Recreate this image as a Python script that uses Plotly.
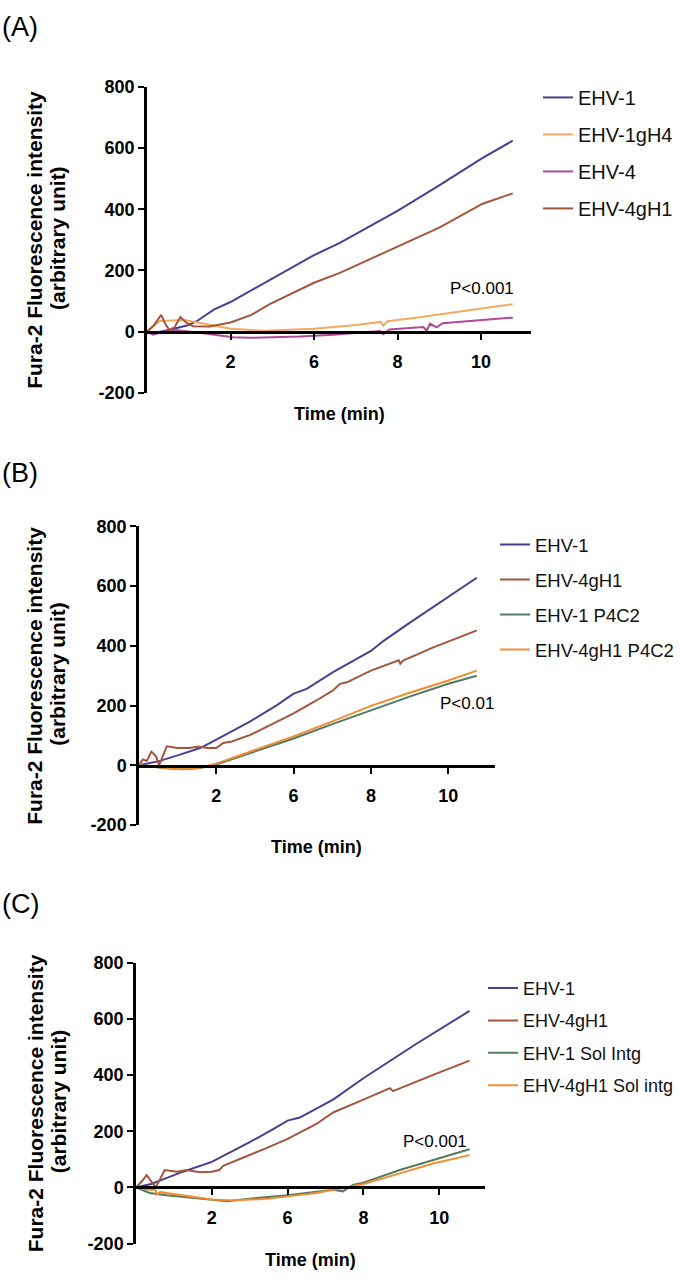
import plotly.graph_objects as go

W, H = 680, 1286
FONT = "Liberation Sans, Arial, sans-serif"

# ---------------- data ----------------
# x values are positions on the axis; ticks sit at 1..4 and are labelled 2, 6, 8, 10
x_tick_pos = [1, 2, 3, 4]
x_tick_text = ["2", "6", "8", "10"]
y_tick_vals = [-200, 0, 200, 400, 600, 800]
y_tick_text = ["-200", "0", "200", "400", "600", "800"]

# Panel A
a_ehv1_x = [0, 0.1, 0.3, 0.5, 0.6, 0.8, 1.0, 1.25, 1.5, 2.0, 2.31, 2.79, 3.0, 3.5, 4.02, 4.38]
a_ehv1_y = [0, -3, 8, 22, 35, 72, 97, 135, 172, 250, 290, 362, 395, 478, 568, 624]
a_1gh4_x = [0, 0.15, 0.45, 0.63, 1.0, 1.4, 2.0, 2.5, 2.8, 2.83, 2.88, 3.2, 4.0, 4.38]
a_1gh4_y = [0, 35, 38, 29, 10, 3, 10, 22, 32, 20, 34, 45, 74, 90]
a_ehv4_x = [0, 0.07, 0.2, 0.36, 0.63, 1.03, 1.23, 1.83, 2.23, 2.63, 2.79, 2.83, 2.9,
            3.31, 3.35, 3.39, 3.47, 3.54, 4.23, 4.38]
a_ehv4_y = [0, -10, 0, 5, -3, -18, -20, -16, -10, 0, 2, -8, 7, 15, 3, 26, 14, 28, 44, 46]
a_4gh1_x = [0, 0.08, 0.17, 0.22, 0.27, 0.33, 0.4, 0.47, 0.55, 0.75, 1.0, 1.25, 1.47,
            2.0, 2.31, 2.75, 3.0, 3.5, 4.02, 4.38]
a_4gh1_y = [0, 20, 55, 25, 5, 15, 48, 30, 18, 17, 30, 55, 90, 160, 192, 248, 278, 340, 418, 452]

# Panel B
b_ehv1_x = [0, 0.27, 0.53, 0.79, 1.0, 1.44, 1.78, 2.0, 2.17, 2.51, 3.0, 3.16, 3.5, 4.0, 4.37]
b_ehv1_y = [0, 15, 36, 58, 86, 147, 201, 240, 256, 312, 383, 416, 477, 563, 628]
b_4gh1_x = [0, 0.05, 0.1, 0.16, 0.22, 0.26, 0.36, 0.5, 0.65, 0.77, 0.88, 1.0, 1.09, 1.2,
            1.44, 1.65, 2.0, 2.3, 2.51, 2.6, 2.69, 3.0, 3.36, 3.38, 3.41, 3.8, 4.37]
b_4gh1_y = [0, 20, 15, 46, 30, 0, 64, 58, 58, 63, 58, 58, 75, 80, 102, 130, 174, 218,
            251, 273, 278, 317, 352, 340, 350, 394, 452]
b_p4c2_x = [0, 0.2, 0.36, 0.57, 0.79, 1.0, 1.44, 2.0, 2.51, 3.0, 3.5, 4.0, 4.37]
b_1p4c2_y = [0, -6, -10, -13, -9, 3, 42, 90, 139, 185, 230, 273, 300]
b_4p4c2_y = [0, -6, -10, -13, -8, 6, 47, 97, 148, 199, 243, 284, 317]

# Panel C
c_ehv1_x = [0, 0.2, 0.4, 0.62, 1.0, 1.5, 1.81, 2.0, 2.16, 2.6, 3.0, 3.17, 3.48, 3.7, 4.4]
c_ehv1_y = [0, 12, 33, 56, 91, 161, 208, 238, 249, 313, 389, 419, 471, 512, 629]
c_4gh1_x = [0, 0.075, 0.14, 0.23, 0.26, 0.38, 0.54, 0.67, 0.84, 1.0, 1.1, 1.15, 1.5,
            1.72, 2.0, 2.38, 2.6, 2.7, 3.0, 3.35, 3.39, 3.92, 4.4]
c_4gh1_y = [0, 21, 44, 9, 0, 62, 56, 62, 54, 56, 62, 77, 115, 140, 173, 226, 267, 278,
            313, 354, 343, 401, 452]
c_sol1_x = [0, 0.18, 0.4, 1.0, 1.2, 1.5, 2.0, 2.6, 2.73, 2.86, 3.0, 3.48, 3.92, 4.4]
c_sol1_y = [0, -20, -28, -43, -49, -40, -28, -8, -14, 9, 17, 62, 97, 136]
c_sol4_x = [0, 0.18, 0.26, 0.27, 0.32, 0.62, 1.0, 1.28, 1.76, 2.0, 2.38, 2.73, 3.0,
            3.48, 3.92, 4.4]
c_sol4_y = [0, -8, -8, -26, -17, -28, -43, -47, -40, -32, -20, -2, 12, 50, 85, 115]

p_labels = ["P<0.001", "P<0.01", "P<0.001"]
p_pos = [(4.01, 142), (4.24, 207), (3.94, 165)]

# ---------------- styles ----------------
NAVY = "#4B3E8E"
BROWN = "#A3553E"
LORANGE = "#F5A95C"
MAGENTA = "#B0489A"
GREEN = "#527B5E"
ORANGE = "#F28C32"


def fx(px):
    return px / W


def fy(py):
    return 1 - py / H


# pixel geometry of the panels: (x0, px per x unit, y of 800, y of 0, y of -200)
panels = [
    dict(x0=147, sx=83.5, ytop=78, yzero=327, ybot=389),
    dict(x0=139, sx=77.3, ytop=524.5, yzero=767.7, ybot=828),
    dict(x0=136, sx=75.8, ytop=968, yzero=1196, ybot=1253),
]
XMAX = 4.6

series = [
    [("EHV-1", a_ehv1_x, a_ehv1_y, NAVY),
     ("EHV-1gH4", a_1gh4_x, a_1gh4_y, LORANGE),
     ("EHV-4", a_ehv4_x, a_ehv4_y, MAGENTA),
     ("EHV-4gH1", a_4gh1_x, a_4gh1_y, BROWN)],
    [("EHV-1", b_ehv1_x, b_ehv1_y, NAVY),
     ("EHV-4gH1", b_4gh1_x, b_4gh1_y, BROWN),
     ("EHV-1 P4C2", b_p4c2_x, b_1p4c2_y, GREEN),
     ("EHV-4gH1 P4C2", b_p4c2_x, b_4p4c2_y, ORANGE)],
    [("EHV-1", c_ehv1_x, c_ehv1_y, NAVY),
     ("EHV-4gH1", c_4gh1_x, c_4gh1_y, BROWN),
     ("EHV-1 Sol Intg", c_sol1_x, c_sol1_y, GREEN),
     ("EHV-4gH1 Sol intg", c_sol4_x, c_sol4_y, ORANGE)],
]

legend_geo = [
    dict(x=538, y=69, size=20, gap=8),
    dict(x=495, y=524, size=18.5, gap=8),
    dict(x=483, y=975, size=18, gap=6),
]

fig = go.Figure()
layout = dict(width=W, height=H, margin=dict(l=0, r=0, t=0, b=0),
              paper_bgcolor="white", plot_bgcolor="white", showlegend=True,
              font=dict(family=FONT, color="black"))
annotations = []

for i, (pan, ser, lg) in enumerate(zip(panels, series, legend_geo)):
    sfx = "" if i == 0 else str(i + 1)
    xa, ya, lgn = "x" + sfx, "y" + sfx, "legend" + sfx
    for name, xs, ys, col in ser:
        fig.add_trace(go.Scatter(x=xs, y=ys, mode="lines", name=name,
                                 line=dict(color=col, width=2),
                                 xaxis=xa, yaxis=ya, legend=lgn,
                                 legendgroup=f"{i}-{name}"))
    xdom = [fx(pan["x0"]), fx(pan["x0"] + XMAX * pan["sx"])]
    ydom = [fy(pan["ybot"]), fy(pan["ytop"])]
    layout["xaxis" + sfx] = dict(
        domain=xdom, range=[0, XMAX], anchor="free", position=fy(pan["yzero"]),
        showline=True, linecolor="black", linewidth=2.5,
        ticks="outside", ticklen=6, tickwidth=2, tickcolor="black",
        tickvals=x_tick_pos, ticktext=x_tick_text, ticklabelstandoff=7,
        tickfont=dict(size=18, family=FONT, color="black", weight="bold"),
        showgrid=False, zeroline=False)
    layout["yaxis" + sfx] = dict(
        domain=ydom, range=[-200, 800], anchor=xa,
        showline=True, linecolor="black", linewidth=2.5,
        ticks="outside", ticklen=6, tickwidth=2, tickcolor="black",
        tickvals=y_tick_vals, ticktext=y_tick_text,
        tickfont=dict(size=18, family=FONT, color="black", weight="bold"),
        showgrid=False, zeroline=False)
    layout[lgn] = dict(x=fx(lg["x"]), y=fy(lg["y"]), xanchor="left", yanchor="top",
                       font=dict(size=lg["size"], family=FONT, color="#111"),
                       tracegroupgap=lg["gap"], traceorder="grouped",
                       bgcolor="rgba(0,0,0,0)", itemwidth=30)
    # P value label
    px_, py_ = p_pos[i]
    annotations.append(dict(x=px_, y=py_, xref=xa, yref=ya, text=p_labels[i],
                            xanchor="center", yanchor="middle", showarrow=False,
                            font=dict(size=17, family=FONT, color="black")))
    # axis titles
    xc = pan["x0"] + 2.3 * pan["sx"]
    annotations.append(dict(x=fx(xc), y=fy(pan["yzero"] + (83 if i < 2 else 74)),
                            xref="paper", yref="paper", text="<b>Time (min)</b>",
                            xanchor="center", yanchor="middle", showarrow=False,
                            font=dict(size=18, family=FONT, color="black")))
    yc = (pan["ytop"] + pan["ybot"]) / 2
    annotations.append(dict(x=fx(35), y=fy(yc), xref="paper", yref="paper",
                            text="<b>Fura-2 Fluorescence intensity</b>", textangle=-90,
                            xanchor="center", yanchor="middle", showarrow=False,
                            font=dict(size=21, family=FONT, color="black")))
    annotations.append(dict(x=fx(58), y=fy(yc - 2), xref="paper", yref="paper",
                            text="<b>(arbitrary unit)</b>", textangle=-90,
                            xanchor="center", yanchor="middle", showarrow=False,
                            font=dict(size=21, family=FONT, color="black")))

# panel letters
for lab, ycen in zip(["(A)", "(B)", "(C)"], [17, 470, 908]):
    annotations.append(dict(x=0, y=fy(ycen), xref="paper", yref="paper", text=lab,
                            xanchor="left", yanchor="middle", showarrow=False,
                            font=dict(size=27, family=FONT, color="black")))

layout["annotations"] = annotations
fig.update_layout(**layout)
fig.write_html("out.html", config={"displayModeBar": False},
               post_script="document.body.style.margin='0';")
